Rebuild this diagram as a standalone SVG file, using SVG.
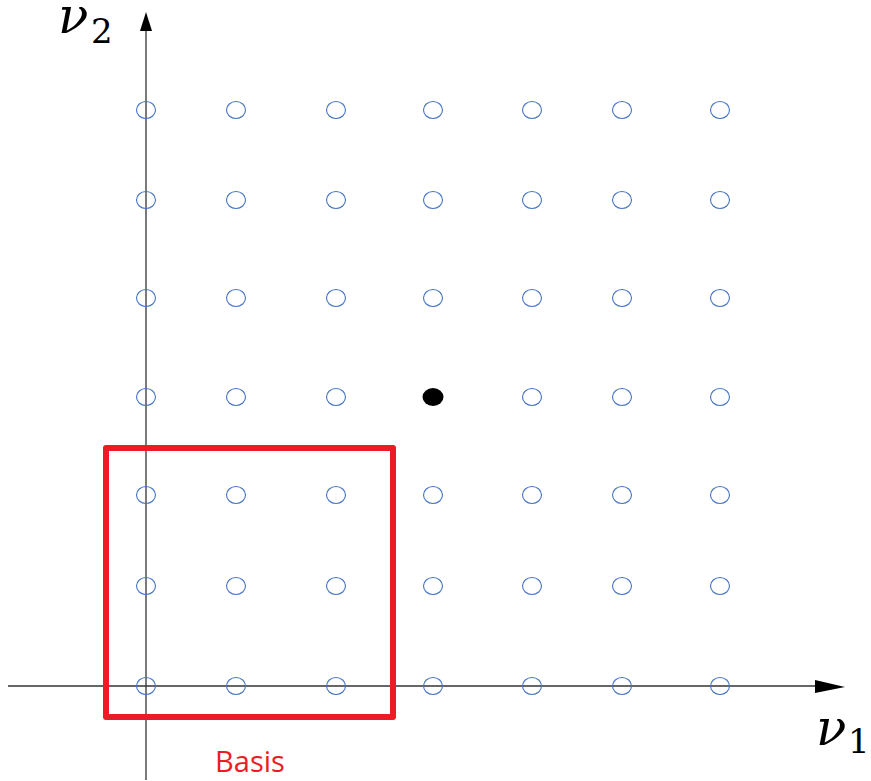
<svg xmlns="http://www.w3.org/2000/svg" width="871" height="781" viewBox="0 0 871 781">
<style>
.pt{fill:none;stroke:#4472C4;stroke-width:1.1}
.ax{stroke:#333;stroke-width:1.3;fill:none}
.lbl{font-family:"DejaVu Serif","Liberation Serif",serif;font-style:italic;fill:#000}
.sub{font-family:"DejaVu Serif","Liberation Serif",serif;fill:#000}
</style>
<rect width="871" height="781" fill="#fff"/>
<g id="axes">
<line class="ax" x1="8" y1="686" x2="815" y2="686"/>
<path d="M815,680 L845,687 L815,693 Z" fill="#000"/>
<line class="ax" x1="146" y1="780" x2="146" y2="30"/>
<path d="M140,31 L146,12 L152,31 Z" fill="#000"/>
</g>
<g id="points">
<g id="row1">
<ellipse class="pt" cx="146" cy="110" rx="9.5" ry="8.5"/><ellipse class="pt" cx="236" cy="110" rx="9.5" ry="8.5"/><ellipse class="pt" cx="336" cy="110" rx="9.5" ry="8.5"/><ellipse class="pt" cx="433" cy="110" rx="9.5" ry="8.5"/><ellipse class="pt" cx="532" cy="110" rx="9.5" ry="8.5"/><ellipse class="pt" cx="622" cy="110" rx="9.5" ry="8.5"/><ellipse class="pt" cx="720" cy="110" rx="9.5" ry="8.5"/>
</g>
<g id="row2">
<ellipse class="pt" cx="146" cy="200" rx="9.5" ry="8.5"/><ellipse class="pt" cx="236" cy="200" rx="9.5" ry="8.5"/><ellipse class="pt" cx="336" cy="200" rx="9.5" ry="8.5"/><ellipse class="pt" cx="433" cy="200" rx="9.5" ry="8.5"/><ellipse class="pt" cx="532" cy="200" rx="9.5" ry="8.5"/><ellipse class="pt" cx="622" cy="200" rx="9.5" ry="8.5"/><ellipse class="pt" cx="720" cy="200" rx="9.5" ry="8.5"/>
</g>
<g id="row3">
<ellipse class="pt" cx="146" cy="298" rx="9.5" ry="8.5"/><ellipse class="pt" cx="236" cy="298" rx="9.5" ry="8.5"/><ellipse class="pt" cx="336" cy="298" rx="9.5" ry="8.5"/><ellipse class="pt" cx="433" cy="298" rx="9.5" ry="8.5"/><ellipse class="pt" cx="532" cy="298" rx="9.5" ry="8.5"/><ellipse class="pt" cx="622" cy="298" rx="9.5" ry="8.5"/><ellipse class="pt" cx="720" cy="298" rx="9.5" ry="8.5"/>
</g>
<g id="row4">
<ellipse class="pt" cx="146" cy="397" rx="9.5" ry="8.5"/><ellipse class="pt" cx="236" cy="397" rx="9.5" ry="8.5"/><ellipse class="pt" cx="336" cy="397" rx="9.5" ry="8.5"/><ellipse cx="433" cy="397" rx="10.5" ry="9" fill="#000"/><ellipse class="pt" cx="532" cy="397" rx="9.5" ry="8.5"/><ellipse class="pt" cx="622" cy="397" rx="9.5" ry="8.5"/><ellipse class="pt" cx="720" cy="397" rx="9.5" ry="8.5"/>
</g>
<g id="row5">
<ellipse class="pt" cx="146" cy="495" rx="9.5" ry="8.5"/><ellipse class="pt" cx="236" cy="495" rx="9.5" ry="8.5"/><ellipse class="pt" cx="336" cy="495" rx="9.5" ry="8.5"/><ellipse class="pt" cx="433" cy="495" rx="9.5" ry="8.5"/><ellipse class="pt" cx="532" cy="495" rx="9.5" ry="8.5"/><ellipse class="pt" cx="622" cy="495" rx="9.5" ry="8.5"/><ellipse class="pt" cx="720" cy="495" rx="9.5" ry="8.5"/>
</g>
<g id="row6">
<ellipse class="pt" cx="146" cy="586" rx="9.5" ry="8.5"/><ellipse class="pt" cx="236" cy="586" rx="9.5" ry="8.5"/><ellipse class="pt" cx="336" cy="586" rx="9.5" ry="8.5"/><ellipse class="pt" cx="433" cy="586" rx="9.5" ry="8.5"/><ellipse class="pt" cx="532" cy="586" rx="9.5" ry="8.5"/><ellipse class="pt" cx="622" cy="586" rx="9.5" ry="8.5"/><ellipse class="pt" cx="720" cy="586" rx="9.5" ry="8.5"/>
</g>
<g id="row7">
<ellipse class="pt" cx="146" cy="686" rx="9.5" ry="8.5"/><ellipse class="pt" cx="236" cy="686" rx="9.5" ry="8.5"/><ellipse class="pt" cx="336" cy="686" rx="9.5" ry="8.5"/><ellipse class="pt" cx="433" cy="686" rx="9.5" ry="8.5"/><ellipse class="pt" cx="532" cy="686" rx="9.5" ry="8.5"/><ellipse class="pt" cx="622" cy="686" rx="9.5" ry="8.5"/><ellipse class="pt" cx="720" cy="686" rx="9.5" ry="8.5"/>
</g>
</g>
<g id="basis">
<rect x="106" y="448" width="287" height="269" fill="none" stroke="#ED1C24" stroke-width="6" stroke-linejoin="round"/>
<text x="250" y="772" text-anchor="middle" font-family="'Open Sans','Liberation Sans',sans-serif" font-size="29" fill="#ED1C24">Basis</text>
</g>
<g id="labels">
<text x="58" y="33" class="lbl" font-size="50">ν</text><text x="91" y="43" class="sub" font-size="34">2</text>
<text x="816" y="745" class="lbl" font-size="50">ν</text><text x="848" y="753" class="sub" font-size="34">1</text>
</g>
</svg>
